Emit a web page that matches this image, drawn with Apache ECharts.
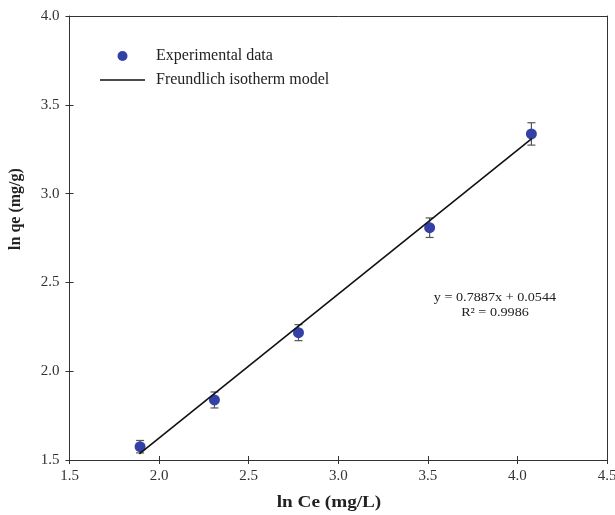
<!DOCTYPE html>
<html>
<head>
<meta charset="utf-8">
<script src="https://cdn.jsdelivr.net/npm/echarts@6/dist/echarts.min.js"></script>
<style>html,body{margin:0;padding:0;background:#fff;overflow:hidden;}#c{width:615px;height:515px;}</style>
</head>
<body>
<div id="c"></div>
<script>
// Data
var lnCe = [1.894, 2.309, 2.778, 3.510, 4.078];
var lnQe = [1.575, 1.838, 2.217, 2.808, 3.336];
var errQe = [0.035, 0.045, 0.045, 0.055, 0.063];
var fitX = [1.89, 4.08];
var fitY = [1.535, 3.31];
var xTicks = { min: 1.5, max: 4.5, interval: 0.5 };
var yTicks = { min: 1.5, max: 4.0, interval: 0.5 };
var eqText = ['y = 0.7887x + 0.0544', 'R\u00b2 = 0.9986'];

var FONT = '"Liberation Serif", "DejaVu Serif", serif';
var AX = '#333';

var pts = lnCe.map(function (x, i) { return [x, lnQe[i]]; });
var fit = fitX.map(function (x, i) { return [x, fitY[i]]; });
var errs = lnCe.map(function (x, i) { return [x, lnQe[i] - errQe[i], lnQe[i] + errQe[i]]; });

function baseX(extra) {
  return Object.assign({
    type: 'value', min: xTicks.min, max: xTicks.max, interval: xTicks.interval,
    splitLine: { show: false }
  }, extra);
}
function baseY(extra) {
  return Object.assign({
    type: 'value', min: yTicks.min, max: yTicks.max, interval: yTicks.interval,
    splitLine: { show: false }
  }, extra);
}

var chart = echarts.init(document.getElementById('c'), null, { renderer: 'canvas', width: 615, height: 515 });
chart.setOption({
  animation: false,
  backgroundColor: '#fff',
  grid: { left: 69.5, right: 8, top: 16, bottom: 55, containLabel: false, outerBoundsMode: 'none' },
  xAxis: [
    baseX({
      position: 'bottom',
      axisLine: { show: true, onZero: false, lineStyle: { color: AX, width: 1 } },
      axisTick: { show: true, inside: false, length: 4, lineStyle: { color: AX } },
      axisLabel: { color: '#333', fontFamily: FONT, fontSize: 15, margin: 9,
        formatter: function (v) { return v.toFixed(1); } }
    }),
    baseX({
      position: 'bottom',
      axisLine: { show: false, onZero: false },
      axisTick: { show: true, inside: true, length: 4, lineStyle: { color: AX } },
      axisLabel: { show: false }
    }),
    baseX({
      position: 'top',
      axisLine: { show: true, onZero: false, lineStyle: { color: AX, width: 1 } },
      axisTick: { show: false },
      axisLabel: { show: false }
    })
  ],
  yAxis: [
    baseY({
      position: 'left',
      axisLine: { show: true, onZero: false, lineStyle: { color: AX, width: 1 } },
      axisTick: { show: true, inside: false, length: 4, lineStyle: { color: AX } },
      axisLabel: { color: '#333', fontFamily: FONT, fontSize: 15, margin: 10,
        formatter: function (v) { return v.toFixed(1); } }
    }),
    baseY({
      position: 'left',
      axisLine: { show: false, onZero: false },
      axisTick: { show: true, inside: true, length: 4, lineStyle: { color: AX } },
      axisLabel: { show: false }
    }),
    baseY({
      position: 'right',
      axisLine: { show: true, onZero: false, lineStyle: { color: AX, width: 1 } },
      axisTick: { show: false },
      axisLabel: { show: false }
    })
  ],
  legend: {
    orient: 'vertical',
    left: 95, top: 43,
    itemWidth: 45, itemHeight: 10, itemGap: 8,
    textStyle: { fontFamily: FONT, fontSize: 16, color: '#222', lineHeight: 16, padding: [0, 0, 0, 6] },
    data: [
      { name: 'Experimental data', icon: 'circle' },
      { name: 'Freundlich isotherm model', icon: 'path://M0 0H45V1.6H0Z', itemStyle: { color: '#111' } }
    ]
  },
  series: [
    {
      type: 'custom',
      name: 'err',
      xAxisIndex: 0, yAxisIndex: 0,
      data: errs,
      z: 2,
      renderItem: function (params, api) {
        var x = api.value(0);
        var lo = api.coord([x, api.value(1)]);
        var hi = api.coord([x, api.value(2)]);
        var w = 4;
        var st = { stroke: '#555', lineWidth: 1.2 };
        return {
          type: 'group',
          children: [
            { type: 'line', shape: { x1: lo[0], y1: lo[1], x2: hi[0], y2: hi[1] }, style: st },
            { type: 'line', shape: { x1: lo[0] - w, y1: lo[1], x2: lo[0] + w, y2: lo[1] }, style: st },
            { type: 'line', shape: { x1: hi[0] - w, y1: hi[1], x2: hi[0] + w, y2: hi[1] }, style: st }
          ]
        };
      }
    },
    {
      type: 'line',
      name: 'Freundlich isotherm model',
      xAxisIndex: 0, yAxisIndex: 0,
      data: fit,
      showSymbol: false,
      symbol: 'none',
      lineStyle: { color: '#111', width: 1.6 },
      itemStyle: { color: '#111' },
      z: 4
    },
    {
      type: 'scatter',
      name: 'Experimental data',
      xAxisIndex: 0, yAxisIndex: 0,
      data: pts,
      symbol: 'circle',
      symbolSize: 11,
      itemStyle: { color: '#3340a6', opacity: 1 },
      z: 3
    }
  ],
  graphic: [
    {
      type: 'text', z: 10,
      x: 329, y: 503, scaleX: 1.2,
      style: {
        text: 'ln Ce (mg/L)', x: 0, y: 0, align: 'center', verticalAlign: 'middle',
        font: 'bold 16px ' + FONT, fill: '#222'
      }
    },
    {
      type: 'text', z: 10,
      x: 16, y: 209, rotation: Math.PI / 2,
      style: {
        text: 'ln qe (mg/g)', x: 0, y: 0, align: 'center', verticalAlign: 'middle',
        font: 'bold 16px ' + FONT, fill: '#222'
      }
    },
    {
      type: 'text', z: 10,
      x: 495, y: 298, scaleX: 1.09,
      style: {
        text: eqText[0], x: 0, y: 0, align: 'center', verticalAlign: 'middle',
        font: '13px ' + FONT, fill: '#222'
      }
    },
    {
      type: 'text', z: 10,
      x: 495, y: 313, scaleX: 1.09,
      style: {
        text: eqText[1], x: 0, y: 0, align: 'center', verticalAlign: 'middle',
        font: '13px ' + FONT, fill: '#222'
      }
    }
  ]
});
</script>
</body>
</html>
